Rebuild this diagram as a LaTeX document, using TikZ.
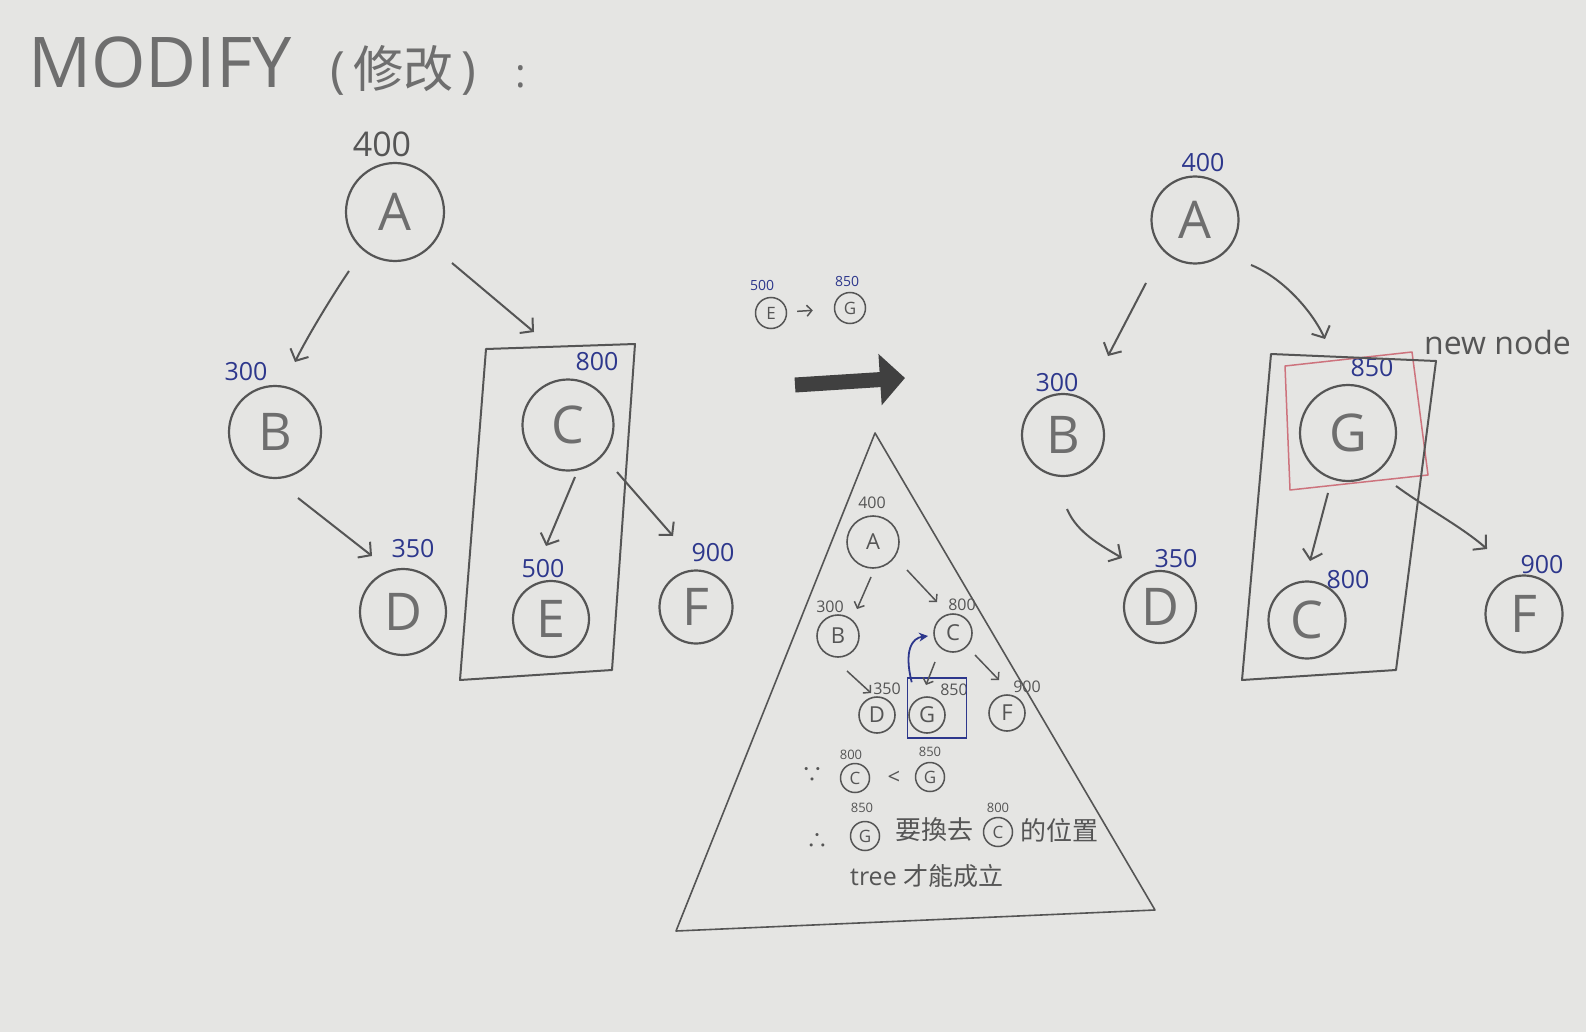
\documentclass[tikz,border=0pt]{standalone}
\usepackage{fontspec}
\setmainfont{Open Sans}
\newfontfamily\cjk{Noto Sans CJK TC}
\usetikzlibrary{arrows.meta,calc}
\definecolor{paper}{RGB}{229,229,227}
\definecolor{pencil}{RGB}{85,85,85}
\definecolor{inkblue}{RGB}{45,55,140}
\definecolor{redpen}{RGB}{205,115,125}
\begin{document}
\begin{tikzpicture}[x=1pt,y=-1pt,
 bign/.style={circle,draw=pencil,line width=2.2pt,inner sep=0pt,text=pencil!85,font=\fontsize{52}{60}\selectfont},
 smalln/.style={circle,draw=pencil,line width=1.6pt,inner sep=0pt,text=pencil,font=\fontsize{22}{26}\selectfont},
 tinyn/.style={circle,draw=pencil,line width=1.5pt,inner sep=0pt,text=pencil,minimum size=29pt,font=\fontsize{17}{20}\selectfont},
 bluelab/.style={text=inkblue,font=\fontsize{25}{28}\selectfont,inner sep=0pt},
 graylab/.style={text=pencil,font=\fontsize{34}{38}\selectfont,inner sep=0pt},
 smalllab/.style={text=pencil,font=\fontsize{16}{18}\selectfont,inner sep=0pt},
 tinylab/.style={text=pencil,font=\fontsize{13}{15}\selectfont,inner sep=0pt},
 arr/.style={draw=pencil,line width=2pt,-{Straight Barb[length=9pt,width=20pt]}},
 sarr/.style={draw=pencil,line width=1.5pt,-{Straight Barb[length=5pt,width=11pt]}},
 txt/.style={text=pencil,inner sep=0pt},
 boxline/.style={draw=pencil,line width=2pt,line join=round},
]
\fill[paper] (0,0) rectangle (1586,1032);
\useasboundingbox (0,0) rectangle (1586,1032);

% title
\node[txt,anchor=base west,font=\fontsize{70}{80}\selectfont,text=pencil!85] (title) at (28,88) {MODIFY};
\node[txt,anchor=base west,font=\fontsize{50}{56}\selectfont,text=pencil!85] (titlecn) at (330,88) {(\,\cjk 修改\rmfamily\,)};
\node[txt,anchor=base west,font=\fontsize{40}{48}\selectfont,text=pencil!85] (titlecolon) at (515,88) {:};

% ---------- left tree ----------
\node[bign,minimum size=98pt] (lA) at (395,212) {A};
\node[bign,minimum size=92pt] (lB) at (275,432) {B};
\node[bign,minimum size=91pt] (lC) at (568,425) {C};
\node[bign,minimum size=86pt] (lD) at (403,612) {D};
\node[bign,minimum size=76pt] (lE) at (551,619) {E};
\node[bign,minimum size=73pt] (lF) at (696,607) {F};
\node[graylab] (lA400) at (382,144) {400};
\node[bluelab] (lB300) at (246,372) {300};
\node[bluelab] (lC800) at (597,362) {800};
\node[bluelab] (lD350) at (413,549) {350};
\node[bluelab] (lE500) at (543,569) {500};
\node[bluelab] (lF900) at (713,553) {900};
\draw[boxline] (486,349) -- (635,344) -- (612,670) -- (460,680) -- cycle;
\draw[arr] ([shift={(-46,59)}]lA.center) .. controls +(-15,22) and +(12,-25) .. ([shift={(20,-70)}]lB.center);
\draw[arr] ([shift={(57,51)}]lA.center) -- ([shift={(-34,-93)}]lC.center);
\draw[arr] ([shift={(23,66)}]lB.center) -- ([shift={(-31,-56)}]lD.center);
\draw[arr] ([shift={(7,52)}]lC.center) -- ([shift={(-5,-73)}]lE.center);
\draw[arr] ([shift={(49,47)}]lC.center) -- ([shift={(-23,-71)}]lF.center);

% ---------- E -> G note ----------
\node[tinyn,minimum size=31pt] (xE) at (771,313) {E};
\node[tinyn,minimum size=31pt] (xG) at (850,308) {G};
\node[bluelab,font=\fontsize{14}{16}\selectfont] (xE500) at (762,285) {500};
\node[bluelab,font=\fontsize{14}{16}\selectfont] (xG850) at (847,281) {850};
\draw[sarr,shorten <=10pt,shorten >=21pt] (xE) -- (xG);

% big arrow
\coordinate (bigS) at (795,385);
\coordinate (bigE) at (905,378);
\draw[pencil!75!black,line width=15pt,-{Triangle[length=25pt,width=50pt]}] (bigS) -- (bigE);

% ---------- triangle ----------
\draw[pencil,line width=1.6pt,line join=round] (875,433) -- (1155,910) -- (676,931) -- cycle;
\node[smalln,minimum size=52pt] (sA) at (873,542) {A};
\node[smalln,minimum size=42pt] (sB) at (838,636) {B};
\node[smalln,minimum size=38pt] (sC) at (953,633) {C};
\node[smalln,minimum size=36pt] (sD) at (877,715) {D};
\node[smalln,minimum size=36pt] (sG) at (927,715) {G};
\node[smalln,minimum size=36pt] (sF) at (1007,713) {F};
\node[smalllab] (sA400) at (872,503) {400};
\node[smalllab] (sB300) at (830,607) {300};
\node[smalllab] (sC800) at (962,605) {800};
\node[smalllab] (sD350) at (887,689) {350};
\node[smalllab] (sG850) at (954,690) {850};
\node[smalllab] (sF900) at (1027,687) {900};
\node[draw=inkblue,line width=1.6pt,minimum width=59pt,minimum height=60pt,inner sep=0pt] (gbox) at (937,708) {};
\draw[sarr] ([shift={(-2,35)}]sA.center) -- ([shift={(19,-27)}]sB.center);
\draw[sarr] ([shift={(34,28)}]sA.center) -- ([shift={(-16,-31)}]sC.center);
\draw[sarr] ([shift={(9,35)}]sB.center) -- ([shift={(-6,-22)}]sD.center);
\draw[sarr] ([shift={(-18,29)}]sC.center) -- ([shift={(-1,-30)}]sG.center);
\draw[sarr] ([shift={(22,22)}]sC.center) -- ([shift={(-8,-33)}]sF.center);
\draw[inkblue,line width=1.8pt,-{Stealth[length=9pt,width=9pt]}] ([shift={(5,5)}]gbox.north west) .. controls +(-8,-32) and +(-16,2) .. ([shift={(-25,3)}]sC.center);

% reasoning text
\node[txt,font=\cjk\fontsize{22}{24}\selectfont] (because) at (812,775) {∵};
\node[tinyn] (bC) at (855,778) {C};
\node[tinylab] (bC800) at (851,755) {800};
\node[txt,font=\fontsize{22}{24}\selectfont] (lt) at (894,778) {<};
\node[tinyn] (bG) at (930,777) {G};
\node[tinylab] (bG850) at (930,752) {850};
\node[txt,font=\cjk\fontsize{22}{24}\selectfont] (therefore) at (817,841) {∴};
\node[tinyn] (cG) at (865,836) {G};
\node[tinylab] (cG850) at (862,808) {850};
\node[txt,font=\cjk\fontsize{26}{30}\selectfont] (swap) at (934,830) {要換去};
\node[tinyn] (cC) at (998,832) {C};
\node[tinylab] (cC800) at (998,808) {800};
\node[txt,font=\cjk\fontsize{26}{30}\selectfont] (pos) at (1059,830) {的位置};
\node[txt,anchor=west,font=\fontsize{25}{28}\selectfont] (treeok) at (850,876) {tree {\cjk 才能成立}};

% ---------- right tree ----------
\node[bign,minimum size=87pt] (rA) at (1195,220) {A};
\node[bign,minimum size=82pt] (rB) at (1063,435) {B};
\node[bign,minimum size=96pt] (rG) at (1348,433) {G};
\node[bign,minimum size=72pt] (rD) at (1160,607) {D};
\node[bign,minimum size=77pt] (rC) at (1307,620) {C};
\node[bign,minimum size=77pt] (rF) at (1524,614) {F};
\node[bluelab] (rA400) at (1203,163) {400};
\node[bluelab] (rB300) at (1057,383) {300};
\node[bluelab] (rG850) at (1372,368) {850};
\node[bluelab] (rD350) at (1176,559) {350};
\node[bluelab] (rC800) at (1348,580) {800};
\node[bluelab] (rF900) at (1542,565) {900};
\draw[redpen,line width=1.5pt,line join=round] (1285,366) -- (1412,352) -- (1428,475) -- (1290,490) -- cycle;
\draw[boxline] (1271,354) -- (1436,361) -- (1396,670) -- (1242,680) -- cycle;
\node[txt,anchor=west,font=\fontsize{32}{36}\selectfont] (newnode) at (1424,342) {new node};
\draw[arr] ([shift={(-49,63)}]rA.center) -- ([shift={(45,-79)}]rB.center);
\draw[arr] ([shift={(56,45)}]rA.center) .. controls +(30,12) and +(-14,-30) .. ([shift={(-23,-94)}]rG.center);
\draw[arr] ([shift={(4,74)}]rB.center) .. controls +(10,24) and +(-20,-12) .. ([shift={(-38,-49)}]rD.center);
\draw[arr] ([shift={(-20,60)}]rG.center) -- ([shift={(3,-59)}]rC.center);
\draw[arr] ([shift={(48,53)}]rG.center) .. controls +(30,22) and +(-25,-22) .. ([shift={(-37,-65)}]rF.center);
\end{tikzpicture}
\end{document}
